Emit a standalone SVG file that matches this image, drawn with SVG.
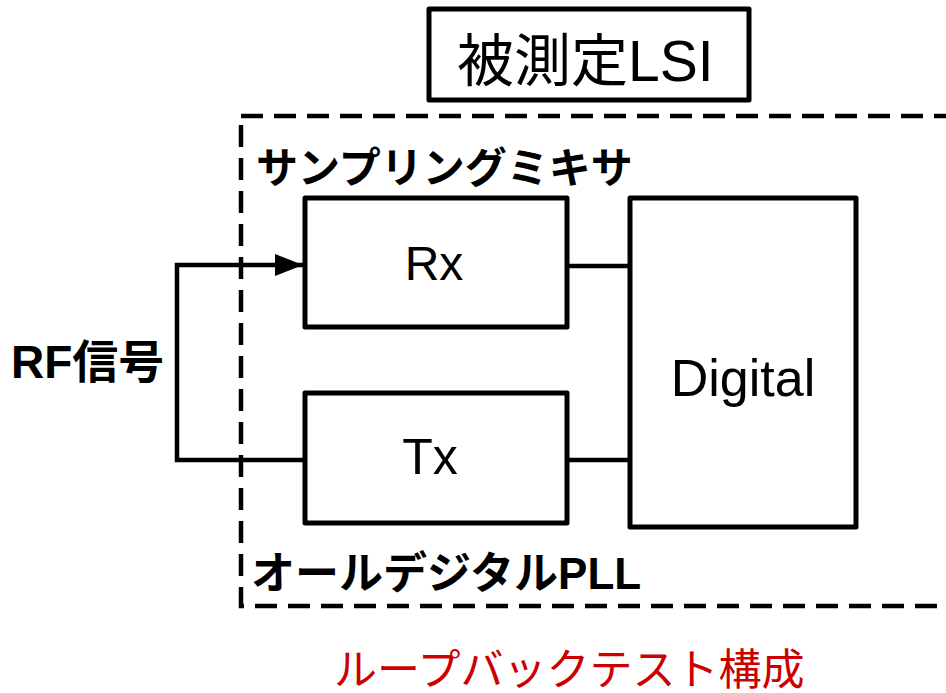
<svg xmlns="http://www.w3.org/2000/svg" width="946" height="693" viewBox="0 0 946 693">
<style>
.box{fill:#fff;stroke:#000;stroke-width:5;stroke-linejoin:round}
.ln{fill:none;stroke:#000;stroke-width:4.5}
.dash{fill:none;stroke:#000;stroke-width:4.5;stroke-dasharray:22 11;stroke-linecap:butt}
.lat{font-family:"Liberation Sans","Noto Sans CJK JP",sans-serif;fill:#000}
.jb{font-family:"Liberation Sans","Noto Sans CJK JP",sans-serif;font-weight:bold;fill:#000}
.jr{font-family:"Liberation Sans","Noto Sans CJK JP",sans-serif;fill:#000}
</style>
<defs>
<marker id="ah" viewBox="0 0 28 22" refX="28" refY="11" markerWidth="28" markerHeight="22" markerUnits="userSpaceOnUse" orient="auto">
<path d="M0,0 L28,11 L0,22 Z" fill="#000"/>
</marker>
</defs>
<rect width="946" height="693" fill="#fff"/>
<g id="lsi">
<rect class="box" x="429" y="9" width="320" height="91"/>
<text class="jr" x="457" y="81" font-size="57">被測定LSI</text>
</g>
<g id="boundary">
<rect class="dash" x="241" y="116" width="730" height="490"/>
<text class="jb" x="256" y="183" font-size="42">サンプリングミキサ</text>
<text class="jb" x="251" y="589" font-size="44">オールデジタルPLL</text>
</g>
<g id="connectors">
<path class="ln" d="M305,460 L177,460 L177,265 L303,265" marker-end="url(#ah)"/>
<path class="ln" d="M567,266 L630,266"/>
<path class="ln" d="M567,460 L630,460"/>
</g>
<g id="rx">
<rect class="box" x="305" y="198" width="262" height="129"/>
<text class="lat" x="434" y="280" font-size="48" text-anchor="middle">Rx</text>
</g>
<g id="tx">
<rect class="box" x="305" y="393" width="262" height="130"/>
<text class="lat" x="430" y="474" font-size="50" text-anchor="middle">Tx</text>
</g>
<g id="digital">
<rect class="box" x="630" y="198" width="226" height="329"/>
<text class="lat" x="743" y="396" font-size="52" text-anchor="middle">Digital</text>
</g>
<g id="rf">
<text class="jb" x="11" y="378" font-size="46">RF信号</text>
</g>
<text class="jr" x="334" y="685" font-size="43" style="fill:#cc0000">ループバックテスト構成</text>
</svg>
